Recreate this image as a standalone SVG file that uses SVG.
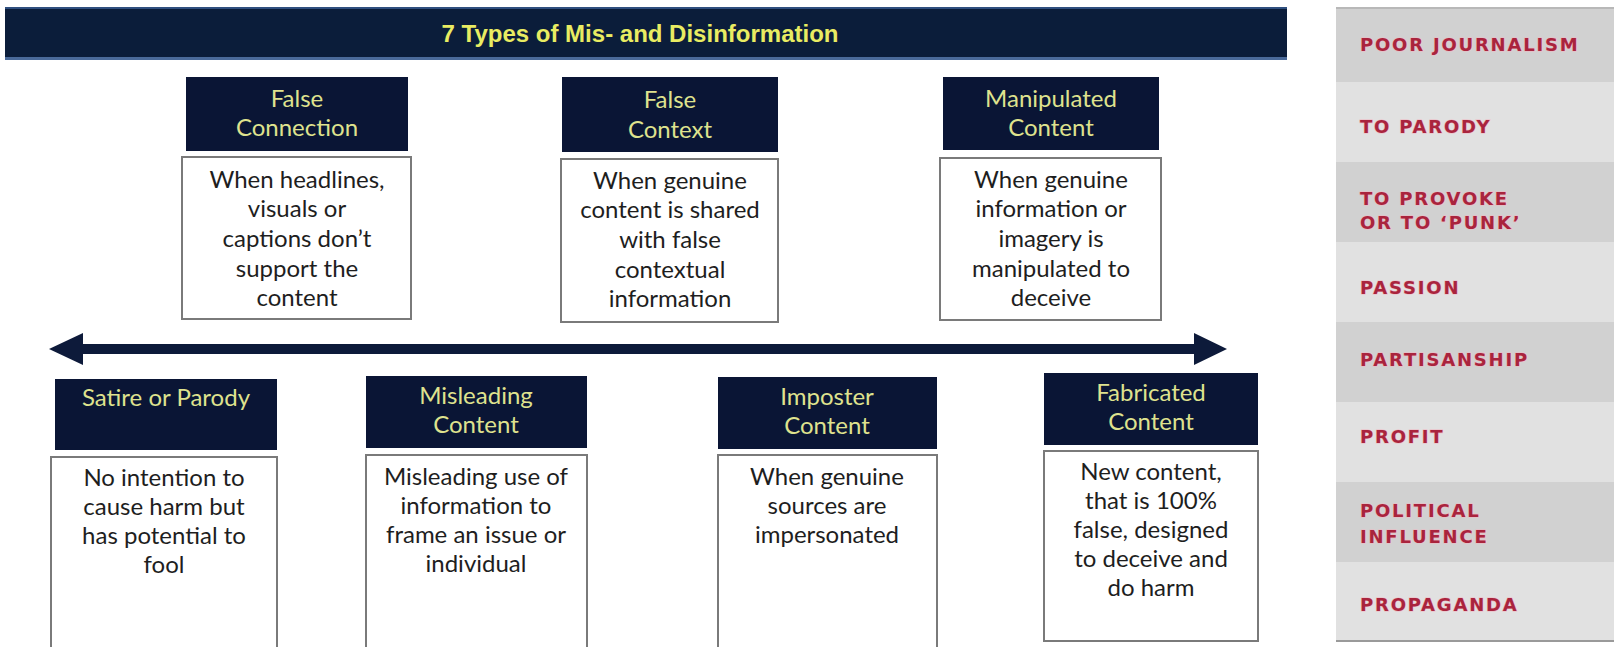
<svg xmlns="http://www.w3.org/2000/svg" width="1614" height="647" viewBox="0 0 1614 647">
<style>
.hdr{fill:#0a1535}
.box{fill:#ffffff;stroke:#7a7a7a;stroke-width:2}
.ht{font-family:Lato,"Open Sans","Liberation Sans",sans-serif;font-size:24px;fill:#dfe28e;text-anchor:middle}
.bt{font-family:Lato,"Open Sans","Liberation Sans",sans-serif;font-size:24px;fill:#1e1e1e;text-anchor:middle}
.title{font-family:"Liberation Sans",Arial,sans-serif;font-weight:bold;font-size:24px;fill:#e9ec62;text-anchor:middle}
.pt{font-family:"DejaVu Sans",Verdana,sans-serif;font-weight:bold;font-size:18px;letter-spacing:1.8px;fill:#a9243d;stroke:#efb9c3;stroke-width:1.2;paint-order:stroke}
.dk{fill:#d1d1d1}
.lt{fill:#e1e1e1}
</style>
<rect width="1614" height="647" fill="#ffffff"/>

<g id="title">
<rect x="5" y="7" width="1282" height="53" fill="#0b1d3a"/>
<rect x="5" y="7" width="1282" height="2" fill="#2f4f7f"/>
<rect x="5" y="57" width="1282" height="3" fill="#4a6a9a"/>
<text class="title" x="640" y="42">7 Types of Mis- and Disinformation</text>
</g>

<g id="connectors">
<line x1="78" y1="349" x2="1199" y2="349" stroke="#0d1a3a" stroke-width="10"/>
<polygon points="49,349 83,333 83,365" fill="#0d1a3a"/>
<polygon points="1227,349 1194,333 1194,365" fill="#0d1a3a"/>
</g>

<g id="false-connection">
<rect class="hdr" x="186" y="77" width="222" height="74"/>
<text class="ht" x="297" y="107">False</text>
<text class="ht" x="297" y="136">Connection</text>
<rect class="box" x="182" y="157" width="229" height="162"/>
<text class="bt" x="297" y="188">When headlines,</text>
<text class="bt" x="297" y="217">visuals or</text>
<text class="bt" x="297" y="247">captions don’t</text>
<text class="bt" x="297" y="277">support the</text>
<text class="bt" x="297" y="306">content</text>
</g>

<g id="false-context">
<rect class="hdr" x="562" y="77" width="216" height="75"/>
<text class="ht" x="670" y="108">False</text>
<text class="ht" x="670" y="138">Context</text>
<rect class="box" x="561" y="159" width="217" height="163"/>
<text class="bt" x="670" y="189">When genuine</text>
<text class="bt" x="670" y="218">content is shared</text>
<text class="bt" x="670" y="248">with false</text>
<text class="bt" x="670" y="278">contextual</text>
<text class="bt" x="670" y="307">information</text>
</g>

<g id="manipulated-content">
<rect class="hdr" x="943" y="77" width="216" height="73"/>
<text class="ht" x="1051" y="107">Manipulated</text>
<text class="ht" x="1051" y="136">Content</text>
<rect class="box" x="940" y="158" width="221" height="162"/>
<text class="bt" x="1051" y="188">When genuine</text>
<text class="bt" x="1051" y="217">information or</text>
<text class="bt" x="1051" y="247">imagery is</text>
<text class="bt" x="1051" y="277">manipulated to</text>
<text class="bt" x="1051" y="306">deceive</text>
</g>

<g id="satire-or-parody">
<rect class="hdr" x="55" y="379" width="222" height="71"/>
<text class="ht" x="166" y="406">Satire or Parody</text>
<rect class="box" x="51" y="457" width="226" height="200"/>
<text class="bt" x="164" y="486">No intention to</text>
<text class="bt" x="164" y="515">cause harm but</text>
<text class="bt" x="164" y="544">has potential to</text>
<text class="bt" x="164" y="573">fool</text>
</g>

<g id="misleading-content">
<rect class="hdr" x="366" y="376" width="221" height="72"/>
<text class="ht" x="476" y="404">Misleading</text>
<text class="ht" x="476" y="433">Content</text>
<rect class="box" x="366" y="455" width="221" height="200"/>
<text class="bt" x="476" y="485">Misleading use of</text>
<text class="bt" x="476" y="514">information to</text>
<text class="bt" x="476" y="543">frame an issue or</text>
<text class="bt" x="476" y="572">individual</text>
</g>

<g id="imposter-content">
<rect class="hdr" x="718" y="377" width="219" height="72"/>
<text class="ht" x="827" y="405">Imposter</text>
<text class="ht" x="827" y="434">Content</text>
<rect class="box" x="718" y="455" width="219" height="200"/>
<text class="bt" x="827" y="485">When genuine</text>
<text class="bt" x="827" y="514">sources are</text>
<text class="bt" x="827" y="543">impersonated</text>
</g>

<g id="fabricated-content">
<rect class="hdr" x="1044" y="373" width="214" height="72"/>
<text class="ht" x="1151" y="401">Fabricated</text>
<text class="ht" x="1151" y="430">Content</text>
<rect class="box" x="1044" y="451" width="214" height="190"/>
<text class="bt" x="1151" y="480">New content,</text>
<text class="bt" x="1151" y="509">that is 100%</text>
<text class="bt" x="1151" y="538">false, designed</text>
<text class="bt" x="1151" y="567">to deceive and</text>
<text class="bt" x="1151" y="596">do harm</text>
</g>

<g id="motives-panel">
<rect class="dk" x="1336" y="7" width="278" height="75"/>
<rect x="1336" y="7" width="278" height="2" fill="#b8b8b8"/>
<rect class="lt" x="1336" y="82" width="278" height="80"/>
<rect class="dk" x="1336" y="162" width="278" height="80"/>
<rect class="lt" x="1336" y="242" width="278" height="80"/>
<rect class="dk" x="1336" y="322" width="278" height="80"/>
<rect class="lt" x="1336" y="402" width="278" height="80"/>
<rect class="dk" x="1336" y="482" width="278" height="80"/>
<rect class="lt" x="1336" y="562" width="278" height="79"/>
<rect x="1336" y="640" width="278" height="2" fill="#9a9a9a"/>
<text class="pt" x="1360" y="51">POOR JOURNALISM</text>
<text class="pt" x="1360" y="133">TO PARODY</text>
<text class="pt" x="1360" y="205">TO PROVOKE</text>
<text class="pt" x="1360" y="229">OR TO ‘PUNK’</text>
<text class="pt" x="1360" y="294">PASSION</text>
<text class="pt" x="1360" y="366">PARTISANSHIP</text>
<text class="pt" x="1360" y="443">PROFIT</text>
<text class="pt" x="1360" y="517">POLITICAL</text>
<text class="pt" x="1360" y="543">INFLUENCE</text>
<text class="pt" x="1360" y="611">PROPAGANDA</text>
</g>
</svg>
